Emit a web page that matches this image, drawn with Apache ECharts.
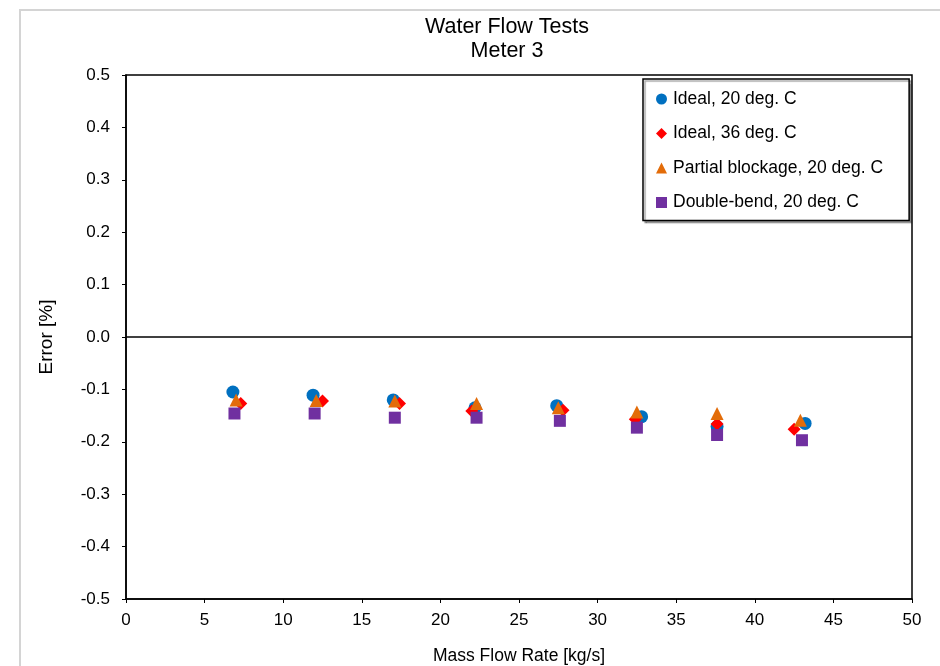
<!DOCTYPE html>
<html>
<head>
<meta charset="utf-8">
<script src="https://cdn.jsdelivr.net/npm/echarts@6/dist/echarts.min.js"></script>
<style>
  html, body { margin: 0; padding: 0; background: #fff; }
  #main { width: 940px; height: 666px; }
</style>
</head>
<body>
<div id="main"></div>
<script>
// values
const seriesNames = ['Ideal, 20 deg. C', 'Ideal, 36 deg. C', 'Partial blockage, 20 deg. C', 'Double-bend, 20 deg. C'];

const ideal20X = [6.8, 11.9, 17.0, 22.2, 27.4, 32.8, 37.6, 43.2];
const ideal20Y = [-0.105, -0.111, -0.120, -0.135, -0.131, -0.152, -0.171, -0.165];

const ideal36X = [7.3, 12.5, 17.4, 22.0, 27.8, 32.4, 37.6, 42.5];
const ideal36Y = [-0.127, -0.122, -0.127, -0.141, -0.140, -0.157, -0.166, -0.176];

const partialX = [7.0, 12.1, 17.1, 22.3, 27.5, 32.5, 37.6, 42.9];
const partialY = [-0.120, -0.121, -0.122, -0.127, -0.135, -0.143, -0.146, -0.159];

const doubleBendX = [6.9, 12.0, 17.1, 22.3, 27.6, 32.5, 37.6, 43.0];
const doubleBendY = [-0.146, -0.146, -0.154, -0.154, -0.160, -0.173, -0.187, -0.197];

const zip = (xs, ys) => xs.map((x, i) => [x, ys[i]]);

const chart = echarts.init(document.getElementById('main'));
const font = 'Liberation Sans, Arial, sans-serif';

const option = {
    backgroundColor: '#fff',
    animation: false,
    graphic: [{
        type: 'rect',
        shape: { x: 20, y: 10, width: 940, height: 680 },
        style: { fill: 'none', stroke: '#d4d4d4', lineWidth: 2 },
        silent: true
    }],
    title: {
        text: 'Water Flow Tests\nMeter 3',
        left: 502,
        top: 10,
        textAlign: 'center',
        textStyle: { fontFamily: font, fontSize: 21.5, fontWeight: 'normal', color: '#000', lineHeight: 24 }
    },
    grid: {
        left: 126, right: 28, top: 75, bottom: 67,
        containLabel: false, outerBoundsMode: 'none',
        show: true, borderColor: '#000', borderWidth: 1.5, backgroundColor: 'transparent'
    },
    legend: {
        orient: 'vertical',
        left: 643,
        top: 79,
        padding: [11, 26, 9, 13],
        itemGap: 16.5,
        itemWidth: 11,
        itemHeight: 11,
        backgroundColor: '#fff',
        borderColor: '#000',
        borderWidth: 1.5,
        borderRadius: 0,
        shadowColor: 'rgba(0,0,0,0.35)',
        shadowOffsetX: 2,
        shadowOffsetY: 2,
        shadowBlur: 1,
        textStyle: { fontFamily: font, fontSize: 17.5, color: '#000', lineHeight: 17, padding: [0, 0, 0, 1] },
        data: seriesNames
    },
    xAxis: {
        type: 'value',
        min: 0, max: 50, interval: 5,
        name: 'Mass Flow Rate [kg/s]',
        nameLocation: 'middle',
        nameGap: 48,
        nameTextStyle: { fontFamily: font, fontSize: 17.5, color: '#000' },
        axisLine: { onZero: false, lineStyle: { color: '#000', width: 1.5 } },
        axisTick: { inside: false, length: 4, lineStyle: { color: '#000' } },
        axisLabel: { fontFamily: font, fontSize: 17, color: '#000', margin: 13 },
        splitLine: { show: false }
    },
    yAxis: {
        type: 'value',
        min: -0.5, max: 0.5, interval: 0.1,
        name: 'Error [%]',
        nameLocation: 'middle',
        nameGap: 70,
        nameRotate: 90,
        nameTextStyle: { fontFamily: font, fontSize: 19, color: '#000' },
        axisLine: { show: true, onZero: false, lineStyle: { color: '#000', width: 1.5 } },
        axisTick: { show: true, inside: false, length: 4, lineStyle: { color: '#000' } },
        axisLabel: {
            fontFamily: font, fontSize: 17, color: '#000', margin: 16,
            formatter: v => v.toFixed(1)
        },
        splitLine: { show: false }
    },
    series: [
        {
            name: seriesNames[0],
            type: 'scatter',
            symbol: 'circle',
            symbolSize: 13,
            itemStyle: { color: '#0070C0', opacity: 1 },
            data: zip(ideal20X, ideal20Y),
            markLine: {
                silent: true,
                symbol: 'none',
                label: { show: false },
                lineStyle: { color: '#000', width: 1.5, type: 'solid', opacity: 1 },
                data: [{ yAxis: 0 }]
            }
        },
        {
            name: seriesNames[1],
            type: 'scatter',
            symbol: 'diamond',
            symbolSize: 13,
            itemStyle: { color: '#FF0000', opacity: 1 },
            data: zip(ideal36X, ideal36Y)
        },
        {
            name: seriesNames[2],
            type: 'scatter',
            symbol: 'triangle',
            symbolSize: 13,
            itemStyle: { color: '#E36C09', opacity: 1 },
            data: zip(partialX, partialY)
        },
        {
            name: seriesNames[3],
            type: 'scatter',
            symbol: 'rect',
            symbolSize: 12,
            itemStyle: { color: '#7030A0', opacity: 1 },
            data: zip(doubleBendX, doubleBendY)
        }
    ]
};

chart.setOption(option);
</script>
</body>
</html>
